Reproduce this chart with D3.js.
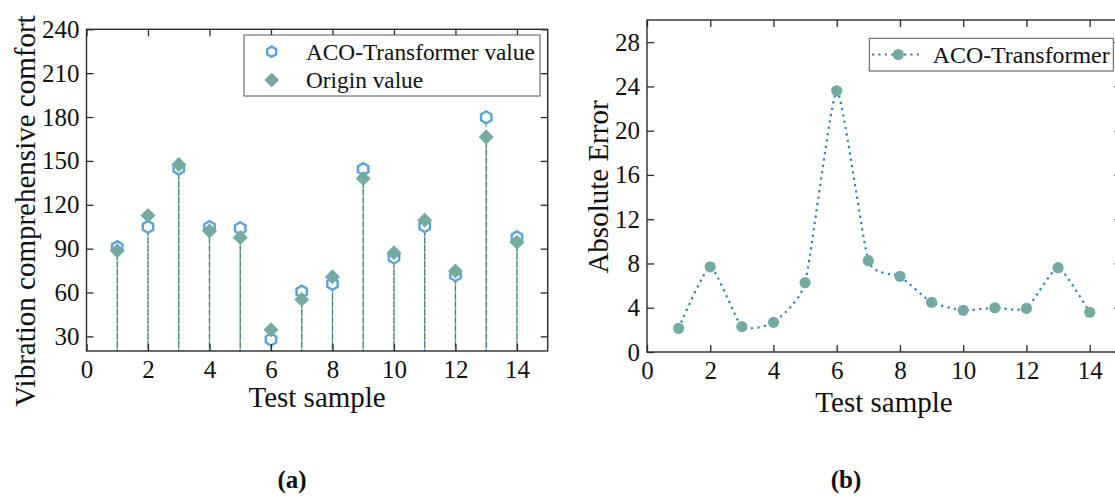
<!DOCTYPE html>
<html>
<head>
<meta charset="utf-8">
<script src="https://cdn.jsdelivr.net/npm/d3@7"></script>
<style>
  html, body { margin: 0; padding: 0; background: #fff; }
  svg { display: block; }
  text { font-family: "Liberation Serif", "Times New Roman", serif; fill: #111; }
</style>
</head>
<body>
<svg id="fig" width="1115" height="498"></svg>
<script>
// Test samples
const samples = [1, 2, 3, 4, 5, 6, 7, 8, 9, 10, 11, 12, 13, 14];
// Measured vibration comprehensive comfort
const originValues = [88.5, 112.6, 147.5, 102.0, 97.6, 34.5, 55.3, 70.8, 138.0, 87.2, 109.5, 74.7, 166.4, 94.3];
// ACO-Transformer predictions
const predValues = [91.0, 104.9, 144.8, 104.7, 103.9, 27.9, 60.6, 65.9, 144.4, 84.0, 105.4, 71.9, 179.8, 97.7];
// Absolute error of ACO-Transformer per sample
const errorValues = [2.14, 7.7, 2.29, 2.68, 6.26, 23.6, 8.25, 6.84, 4.49, 3.77, 4.0, 3.94, 7.62, 3.59];

const xTicks = [0, 2, 4, 6, 8, 10, 12, 14];
const yTicksA = [30, 60, 90, 120, 150, 180, 210, 240];
const yTicksB = [0, 4, 8, 12, 16, 20, 24, 28];

const svg = d3.select("#fig");
const axisColor = "#2b2b2b";
const markerTeal = "#73aaa1";
const hexBlue = "#5aa3da";
const lineBlue = "#2f7fba";
const tickLen = 7;
const tickFont = 25;
const titleFont = 29;

function hexPath(cx, cy, r) {
  const pts = d3.range(6).map(i => {
    const a = Math.PI / 2 + i * Math.PI / 3;
    return [cx + r * Math.cos(a), cy - r * Math.sin(a)];
  });
  return d3.line()(pts) + "Z";
}

function frame(g, x, y, xt, yt) {
  const [x0, x1] = x.range();
  const [y0, y1] = y.range();
  // bottom axis with labels
  g.append("g").attr("transform", `translate(0,${y0})`)
    .call(d3.axisBottom(x).tickValues(xt).tickSizeInner(-tickLen).tickSizeOuter(0).tickPadding(9))
    .call(s => s.select(".domain").remove());
  // top mirror
  g.append("g").attr("transform", `translate(0,${y1})`)
    .call(d3.axisTop(x).tickValues(xt).tickSizeInner(-tickLen).tickSizeOuter(0).tickFormat(""))
    .call(s => s.select(".domain").remove());
  // left axis with labels
  g.append("g").attr("transform", `translate(${x0},0)`)
    .call(d3.axisLeft(y).tickValues(yt).tickSizeInner(-tickLen).tickSizeOuter(0).tickPadding(7))
    .call(s => s.select(".domain").remove());
  // right mirror
  g.append("g").attr("transform", `translate(${x1},0)`)
    .call(d3.axisRight(y).tickValues(yt).tickSizeInner(-tickLen).tickSizeOuter(0).tickFormat(""))
    .call(s => s.select(".domain").remove());
  g.selectAll(".tick line").attr("stroke", axisColor).attr("stroke-width", 1.3);
  g.selectAll(".tick text").attr("font-size", tickFont)
    .attr("font-family", '"Liberation Serif", "Times New Roman", serif').attr("fill", "#111");
  g.append("rect").attr("x", x0).attr("y", y1).attr("width", x1 - x0).attr("height", y0 - y1)
    .attr("fill", "none").attr("stroke", axisColor).attr("stroke-width", 1.4);
}

// ---------- (a) stem plot ----------
const xA = d3.scaleLinear().domain([0, 15]).range([86.5, 547.7]);
const yA = d3.scaleLinear().domain([20, 240]).range([351, 29.3]);
const gA = svg.append("g");

// stems
gA.selectAll("line.stem-pred").data(samples).join("line")
  .attr("x1", d => xA(d)).attr("x2", d => xA(d))
  .attr("y1", yA(20)).attr("y2", (d, i) => yA(predValues[i]))
  .attr("stroke", "#6f9fe8").attr("stroke-width", 1.3).attr("stroke-dasharray", "5,3");
gA.selectAll("line.stem-orig").data(samples).join("line")
  .attr("x1", d => xA(d)).attr("x2", d => xA(d))
  .attr("y1", yA(20)).attr("y2", (d, i) => yA(originValues[i]))
  .attr("stroke", "#3d8a46").attr("stroke-width", 1.3).attr("stroke-dasharray", "5,3")
  .attr("stroke-dashoffset", 4);

// predicted markers (hexagon outline)
gA.selectAll("path.hex").data(samples).join("path")
  .attr("d", (d, i) => hexPath(xA(d), yA(predValues[i]), 6))
  .attr("fill", "#fff").attr("stroke", hexBlue).attr("stroke-width", 2.4);
// origin markers (filled diamond)
gA.selectAll("path.dia").data(samples).join("path")
  .attr("transform", (d, i) => `translate(${xA(d)},${yA(originValues[i])}) rotate(45)`)
  .attr("d", d3.symbol().type(d3.symbolSquare).size(112))
  .attr("fill", markerTeal);

frame(gA, xA, yA, xTicks, yTicksA);

// legend (a)
const legA = gA.append("g");
legA.append("rect").attr("x", 244).attr("y", 35).attr("width", 296).attr("height", 61)
  .attr("fill", "#fff").attr("stroke", "#555").attr("stroke-width", 1);
legA.append("path").attr("d", hexPath(271.7, 51.7, 5.2))
  .attr("fill", "#fff").attr("stroke", hexBlue).attr("stroke-width", 2.4);
legA.append("path").attr("transform", "translate(271.7,80) rotate(45)")
  .attr("d", d3.symbol().type(d3.symbolSquare).size(108)).attr("fill", markerTeal);
legA.append("text").attr("x", 306).attr("y", 51.7).attr("dy", "0.35em").attr("font-size", 23.3)
  .text("ACO-Transformer value");
legA.append("text").attr("x", 306).attr("y", 80).attr("dy", "0.35em").attr("font-size", 23.3)
  .text("Origin value");

// titles (a)
gA.append("text").attr("x", xA(7.5)).attr("y", 407).attr("text-anchor", "middle")
  .attr("font-size", titleFont).text("Test sample");
gA.append("text").attr("transform", "translate(35,211) rotate(-90)").attr("text-anchor", "middle")
  .attr("font-size", titleFont).text("Vibration comprehensive comfort");

// ---------- (b) error line ----------
const xB = d3.scaleLinear().domain([0, 15]).range([647, 1121.3]);
const yB = d3.scaleLinear().domain([0, 30]).range([352, 20]);
const gB = svg.append("g");

const lineB = d3.line()
  .x((d, i) => xB(samples[i]))
  .y(d => yB(d))
  .curve(d3.curveCardinal.tension(0.5));
gB.append("path").datum(errorValues).attr("d", lineB)
  .attr("fill", "none").attr("stroke", lineBlue).attr("stroke-width", 2.2)
  .attr("stroke-dasharray", "2.2,4.2");
gB.selectAll("circle.pt").data(errorValues).join("circle")
  .attr("cx", (d, i) => xB(samples[i])).attr("cy", d => yB(d)).attr("r", 5.6)
  .attr("fill", markerTeal);

frame(gB, xB, yB, xTicks, yTicksB);

// legend (b)
const legB = gB.append("g");
legB.append("rect").attr("x", 869.3).attr("y", 38.3).attr("width", 244).attr("height", 32.7)
  .attr("fill", "#fff").attr("stroke", "#555").attr("stroke-width", 1);
legB.append("line").attr("x1", 872).attr("x2", 922).attr("y1", 54.5).attr("y2", 54.5)
  .attr("stroke", lineBlue).attr("stroke-width", 2.2).attr("stroke-dasharray", "2.2,4.2");
legB.append("circle").attr("cx", 898.3).attr("cy", 54.5).attr("r", 5.6).attr("fill", markerTeal);
legB.append("text").attr("x", 932.7).attr("y", 54.5).attr("dy", "0.35em").attr("font-size", 23.9)
  .text("ACO-Transformer");

// titles (b)
gB.append("text").attr("x", 884).attr("y", 412).attr("text-anchor", "middle")
  .attr("font-size", titleFont).text("Test sample");
gB.append("text").attr("transform", "translate(608,187) rotate(-90)").attr("text-anchor", "middle")
  .attr("font-size", titleFont).text("Absolute Error");

// panel captions
svg.append("text").attr("x", 292).attr("y", 488).attr("text-anchor", "middle")
  .attr("font-size", 25).attr("font-weight", "bold").text("(a)");
svg.append("text").attr("x", 846).attr("y", 488).attr("text-anchor", "middle")
  .attr("font-size", 25).attr("font-weight", "bold").text("(b)");
</script>
</body>
</html>
